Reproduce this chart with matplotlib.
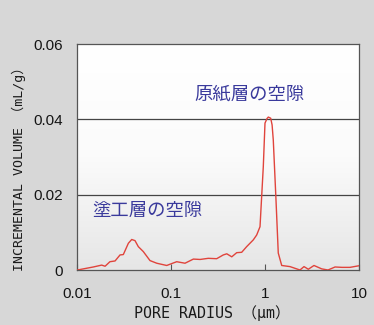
import numpy as np
import matplotlib
matplotlib.use("Agg")
import matplotlib.pyplot as plt
from matplotlib.colors import LinearSegmentedColormap

# Data
pore_radius_um = [0.0101, 0.0149, 0.0183, 0.0199, 0.0224, 0.0254, 0.0287, 0.0311, 0.0352, 0.0382,
                  0.0414, 0.0449, 0.0507, 0.0598, 0.0705, 0.090, 0.115, 0.141, 0.173, 0.204,
                  0.249, 0.306, 0.360, 0.392, 0.443, 0.500, 0.565, 0.638, 0.751, 0.816,
                  0.885, 0.959, 1.0, 1.05, 1.084, 1.15, 1.19, 1.225, 1.309, 1.384, 1.506, 1.845,
                  2.355, 2.60, 2.89, 3.32, 4.01, 4.68, 5.56, 6.59, 8.02, 9.84]
incremental_volume = [0.0, 0.0008, 0.0013, 0.0010, 0.0022, 0.0024, 0.0040, 0.0041, 0.0071, 0.0081,
                      0.0078, 0.0062, 0.0049, 0.0025, 0.0018, 0.0012, 0.0022, 0.0018, 0.0029, 0.0028,
                      0.0031, 0.0030, 0.0040, 0.0043, 0.0035, 0.0046, 0.0047, 0.0062, 0.0080, 0.0093,
                      0.0115, 0.0274, 0.0390, 0.0402, 0.0406, 0.0403, 0.0385, 0.0345, 0.0186, 0.0045, 0.0012, 0.0009,
                      0.0, 0.0009, 0.0002, 0.0012, 0.0003, 0.0, 0.0008, 0.0007, 0.0007, 0.0011]

xticks = [0.01, 0.1, 1, 10]
xticklabels = ["0.01", "0.1", "1", "10"]
yticks = [0, 0.02, 0.04, 0.06]
yticklabels = ["0", "0.02", "0.04", "0.06"]

label_base = "原紙層の空隙"
label_coat = "塗工層の空隙"

fig = plt.figure(figsize=(3.74, 3.25), dpi=100)
fig.patch.set_facecolor("#d7d7d7")
ax = fig.add_axes([77/374, 1 - 270/325, (359-77)/374, (270-44)/325])
ax.set_xscale("log")
ax.set_xlim(0.01, 10)
ax.set_ylim(0, 0.06)

# gradient background inside axes
grad = np.linspace(0, 1, 256).reshape(-1, 1)
cmap = LinearSegmentedColormap.from_list("g", ["#e6e6e6", "#fbfbfb", "#ffffff"])
ax.imshow(grad, extent=[0, 1, 0, 1], transform=ax.transAxes, aspect="auto",
          cmap=cmap, origin="lower", zorder=0)

for yv in [0.02, 0.04]:
    ax.axhline(yv, color="#444444", lw=0.9, zorder=1)

ax.plot(pore_radius_um, incremental_volume, color="#e0443c", lw=1.0, zorder=3)

for s in ax.spines.values():
    s.set_color("#555555")
    s.set_linewidth(0.9)

ax.set_xticks(xticks)
ax.set_xticklabels(xticklabels)
ax.set_yticks(yticks)
ax.set_yticklabels(yticklabels)
ax.minorticks_off()
ax.tick_params(axis="x", direction="in", length=4, color="#555555", pad=12,
               labelsize=11, labelcolor="#151515")
ax.tick_params(axis="y", direction="in", length=0, pad=10,
               labelsize=11, labelcolor="#151515")
for lab in ax.get_xticklabels() + ax.get_yticklabels():
    lab.set_fontfamily("Liberation Sans")

ax.text(0.613, 0.779, label_base, transform=ax.transAxes, fontsize=13.2, color="#3a3a9c",
        family=["Noto Sans CJK JP"], ha="center", va="center")
ax.text(0.248, 0.262, label_coat, transform=ax.transAxes, fontsize=13.2, color="#3a3a9c",
        family=["Noto Sans CJK JP"], ha="center", va="center")

fig.text(212/374, 1 - 313/325, "PORE RADIUS \uff08\u03bcm\uff09", fontsize=10.8,
         family=["DejaVu Sans Mono", "Noto Sans CJK JP"], color="#1a1a1a",
         ha="center", va="center")
fig.text(19/374, 1 - 166/325, "INCREMENTAL VOLUME \uff08mL/g\uff09", fontsize=9.5,
         family=["DejaVu Sans Mono", "Noto Sans CJK JP"], color="#1a1a1a",
         ha="center", va="center", rotation=90)

fig.savefig("out.png", dpi=100, facecolor=fig.get_facecolor())
